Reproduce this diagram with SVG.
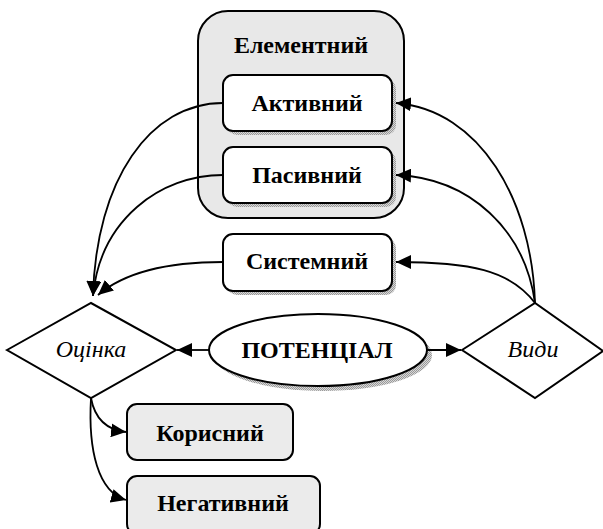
<svg xmlns="http://www.w3.org/2000/svg" width="603" height="529" viewBox="0 0 603 529">
<defs>
<marker id="arr" markerUnits="userSpaceOnUse" markerWidth="16" markerHeight="14" refX="15" refY="7" orient="auto">
<path d="M0,0 L15,7 L0,14 Z" fill="#000"/>
</marker>
<pattern id="dots" width="2" height="2" patternUnits="userSpaceOnUse">
<rect width="2" height="2" fill="#d8d8d8"/>
<rect width="1" height="1" fill="#999"/>
<rect x="1" y="1" width="1" height="1" fill="#999"/>
</pattern>
</defs>
<style>
.box{fill:#fff;stroke:#000;stroke-width:2}
.gbox{fill:#ebebeb;stroke:#000;stroke-width:2}
.sh{fill:url(#dots);stroke:none}
.t{font-family:"Liberation Serif","Times New Roman",serif;font-weight:bold;font-size:24px;text-anchor:middle;fill:#000}
.it{font-family:"Liberation Serif","Times New Roman",serif;font-style:italic;font-size:24px;text-anchor:middle;fill:#000}
.c{fill:none;stroke:#000;stroke-width:1.8}
</style>
<rect width="603" height="529" fill="#fff"/>
<g id="elementnyi">
<rect x="198" y="11" width="206" height="207" rx="30" ry="30" fill="#e8e8e8" stroke="#000" stroke-width="2"/>
<text class="t" x="301" y="53">Елементний</text>
</g>
<g id="aktyvnyi">
<rect class="sh" x="227" y="79" width="169" height="56" rx="10"/>
<rect class="box" x="223" y="75" width="169" height="56" rx="10"/>
<text class="t" x="307" y="111">Активний</text>
</g>
<g id="pasyvnyi">
<rect class="sh" x="227" y="151" width="169" height="56" rx="10"/>
<rect class="box" x="223" y="147" width="169" height="56" rx="10"/>
<text class="t" x="307" y="183">Пасивний</text>
</g>
<g id="systemnyi">
<rect class="sh" x="227" y="238" width="169" height="57" rx="10"/>
<rect class="box" x="223" y="234" width="169" height="57" rx="10"/>
<text class="t" x="307" y="269">Системний</text>
</g>
<g id="otsinka">
<polygon points="7,350 91,303 176,350 91,398" fill="#fff" stroke="#000" stroke-width="2"/>
<text class="it" x="91" y="357">Оцінка</text>
</g>
<g id="vydy">
<polygon points="462,350 535,303 603,351 535,398" fill="#fff" stroke="#000" stroke-width="2"/>
<text class="it" x="533" y="357">Види</text>
</g>
<g id="potentsial">
<ellipse class="sh" cx="323" cy="355" rx="109" ry="36"/>
<ellipse cx="318" cy="350" rx="109" ry="36" fill="#fff" stroke="#000" stroke-width="2"/>
<text class="t" x="317" y="358">ПОТЕНЦІАЛ</text>
</g>
<g id="korysnyi">
<rect class="gbox" x="127" y="404" width="166" height="56" rx="10"/>
<text class="t" x="210" y="441">Корисний</text>
</g>
<g id="negatyvnyi">
<rect class="gbox" x="127" y="476" width="193" height="58" rx="10"/>
<text class="t" x="223" y="511">Негативний</text>
</g>
<g id="connectors">
<path class="c" d="M223,103 C150,103 96,180 93,296" marker-end="url(#arr)"/>
<path class="c" d="M223,175 C160,175 100,220 93,296" marker-end="url(#arr)"/>
<path class="c" d="M223,262 C170,262 125,272 98,295" marker-end="url(#arr)"/>
<path class="c" d="M535,303 C532,200 480,110 396,103" marker-end="url(#arr)"/>
<path class="c" d="M535,303 C525,230 470,178 396,175" marker-end="url(#arr)"/>
<path class="c" d="M535,303 C510,270 470,262 396,262" marker-end="url(#arr)"/>
<path class="c" d="M209,350 L177,350" marker-end="url(#arr)"/>
<path class="c" d="M427,350 L461,350" marker-end="url(#arr)"/>
<path class="c" d="M91,398 C95,420 108,430 126,432" marker-end="url(#arr)"/>
<path class="c" d="M91,398 C88,450 98,492 126,500" marker-end="url(#arr)"/>
</g>
</svg>
